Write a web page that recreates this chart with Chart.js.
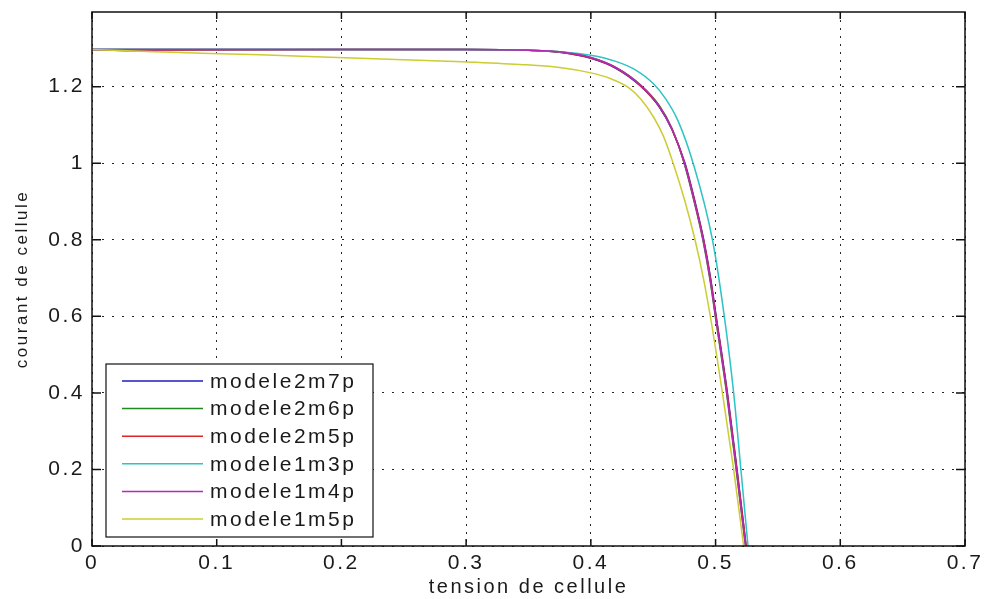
<!DOCTYPE html>
<html>
<head>
<meta charset="utf-8">
<script src="https://cdn.jsdelivr.net/npm/chart.js@4.4.0/dist/chart.umd.min.js"></script>
<style>
html, body { margin: 0; padding: 0; background: #fff; }
#wrap { width: 989px; height: 599px; }
</style>
</head>
<body>
<div id="wrap"><canvas id="c"></canvas></div>
<script>
const xTicks = [0, 0.1, 0.2, 0.3, 0.4, 0.5, 0.6, 0.7];
const yTicks = [0, 0.2, 0.4, 0.6, 0.8, 1, 1.2];

const seriesNames = ['modele2m7p', 'modele2m6p', 'modele2m5p', 'modele1m3p', 'modele1m4p', 'modele1m5p'];
const seriesColors = ['#1c1cc0', '#1f8a1f', '#e02525', '#2cc4c4', '#b52ab5', '#cccc33'];

// tension de cellule (V) / courant de cellule (A)
const v2m7p = [0, 0.1, 0.2, 0.3, 0.35, 0.375, 0.4, 0.42, 0.44, 0.455, 0.465, 0.4755, 0.4835, 0.4905, 0.496, 0.5005, 0.5095, 0.5172, 0.5245];
const i2m7p = [1.297, 1.297, 1.297, 1.297, 1.295, 1.29, 1.274, 1.248, 1.201, 1.146, 1.088, 1.0, 0.9, 0.8, 0.7, 0.6, 0.4, 0.2, 0];

const v2m6p = [0, 0.1, 0.2, 0.3, 0.35, 0.375, 0.4, 0.42, 0.44, 0.455, 0.465, 0.4748, 0.4828, 0.4898, 0.4953, 0.4998, 0.5088, 0.5165, 0.524];
const i2m6p = [1.297, 1.297, 1.297, 1.297, 1.295, 1.291, 1.276, 1.25, 1.204, 1.15, 1.091, 1.0, 0.9, 0.8, 0.7, 0.6, 0.4, 0.2, 0];

const v2m5p = [0, 0.03, 0.1, 0.2, 0.3, 0.35, 0.375, 0.4, 0.42, 0.44, 0.455, 0.465, 0.4752, 0.4832, 0.4903, 0.4958, 0.5003, 0.5093, 0.517, 0.5245];
const i2m5p = [1.297, 1.294, 1.296, 1.297, 1.297, 1.295, 1.29, 1.275, 1.249, 1.202, 1.148, 1.089, 1.0, 0.9, 0.8, 0.7, 0.6, 0.4, 0.2, 0];

const v1m3p = [0, 0.1, 0.2, 0.3, 0.35, 0.375, 0.4, 0.42, 0.435, 0.45, 0.46, 0.47, 0.482, 0.4975, 0.507, 0.5145, 0.5203, 0.526];
const i1m3p = [1.297, 1.297, 1.297, 1.297, 1.295, 1.291, 1.282, 1.266, 1.245, 1.208, 1.168, 1.11, 1.0, 0.8, 0.6, 0.4, 0.2, 0];

const v1m4p = [0, 0.1, 0.2, 0.3, 0.35, 0.375, 0.4, 0.42, 0.44, 0.455, 0.465, 0.475, 0.483, 0.49, 0.4955, 0.5, 0.509, 0.5167, 0.524];
const i1m4p = [1.297, 1.297, 1.297, 1.297, 1.295, 1.291, 1.276, 1.25, 1.203, 1.148, 1.09, 1.0, 0.9, 0.8, 0.7, 0.6, 0.4, 0.2, 0];

const v1m5p = [0, 0.05, 0.135, 0.215, 0.297, 0.343, 0.375, 0.4, 0.415, 0.43, 0.44, 0.45, 0.458, 0.466, 0.4755, 0.4835, 0.4902, 0.4958, 0.5055, 0.5145, 0.5225];
const i1m5p = [1.297, 1.291, 1.283, 1.274, 1.265, 1.258, 1.25, 1.236, 1.222, 1.198, 1.168, 1.122, 1.072, 1.0, 0.9, 0.8, 0.7, 0.6, 0.4, 0.2, 0];

const seriesV = [v2m7p, v2m6p, v2m5p, v1m3p, v1m4p, v1m5p];
const seriesI = [i2m7p, i2m6p, i2m5p, i1m3p, i1m4p, i1m5p];

const FONT = 'Liberation Sans, Arial, Helvetica, sans-serif';
const SPACING = '2.5px';

const toPoints = (vs, is) => vs.map((v, k) => ({ x: v, y: is[k] }));

// matlab style box, inner tick marks and legend inside the axes
const matlabFrame = {
    id: 'matlabFrame',
    beforeUpdate(chart) { chart.ctx.letterSpacing = SPACING; },
    beforeLayout(chart) { chart.ctx.letterSpacing = SPACING; },
    beforeDraw(chart) { chart.ctx.letterSpacing = SPACING; },
    afterDraw(chart) {
        const { ctx, chartArea: a, scales: { x, y } } = chart;
        ctx.save();
        ctx.strokeStyle = '#111';
        ctx.lineWidth = 1.5;
        ctx.strokeRect(a.left, a.top, a.right - a.left, a.bottom - a.top);
        ctx.beginPath();
        xTicks.forEach(v => {
            const px = x.getPixelForValue(v);
            ctx.moveTo(px, a.bottom); ctx.lineTo(px, a.bottom - 7);
            ctx.moveTo(px, a.top); ctx.lineTo(px, a.top + 7);
        });
        yTicks.forEach(v => {
            const py = y.getPixelForValue(v);
            ctx.moveTo(a.left, py); ctx.lineTo(a.left + 9, py);
            ctx.moveTo(a.right, py); ctx.lineTo(a.right - 9, py);
        });
        ctx.stroke();

        // legend box
        const bx = a.left + 14, bw = 267, bh = 173;
        const by = a.bottom - 9 - bh;
        const rowH = 27.6;
        ctx.fillStyle = '#fff';
        ctx.fillRect(bx, by, bw, bh);
        ctx.lineWidth = 1.2;
        ctx.strokeStyle = '#111';
        ctx.strokeRect(bx, by, bw, bh);
        ctx.font = '21px ' + FONT;
        ctx.letterSpacing = SPACING;
        ctx.textBaseline = 'middle';
        ctx.textAlign = 'left';
        chart.data.datasets.forEach((ds, k) => {
            const ry = by + 17 + k * rowH;
            ctx.strokeStyle = ds.borderColor;
            ctx.lineWidth = 1.5;
            ctx.beginPath();
            ctx.moveTo(bx + 16, ry); ctx.lineTo(bx + 97, ry);
            ctx.stroke();
            ctx.fillStyle = '#1a1a1a';
            ctx.fillText(ds.label, bx + 104, ry + 1);
        });
        ctx.restore();
    }
};

new Chart(document.getElementById('c'), {
    type: 'line',
    data: {
        datasets: seriesNames.map((name, k) => ({
            label: name,
            data: toPoints(seriesV[k], seriesI[k]),
            borderColor: seriesColors[k],
            backgroundColor: seriesColors[k],
            borderWidth: 1.5,
            pointRadius: 0,
            fill: false,
            cubicInterpolationMode: 'monotone',
            order: seriesNames.length - k
        }))
    },
    options: {
        responsive: true,
        maintainAspectRatio: false,
        animation: false,
        layout: { padding: { left: 0, right: 24, top: 12, bottom: 0 } },
        scales: {
            x: {
                type: 'linear',
                min: 0,
                max: 0.7,
                afterBuildTicks: s => { s.ticks = xTicks.map(v => ({ value: v })); },
                afterFit: s => { s.height = 53; s.paddingLeft = 0; s.paddingRight = 0; },
                grid: { color: 'rgba(0,0,0,0.85)', lineWidth: 1, drawTicks: false },
                border: { display: false, dash: [2, 6] },
                ticks: {
                    color: '#1a1a1a',
                    padding: 5,
                    maxRotation: 0,
                    autoSkip: false,
                    callback: v => String(v),
                    font: { family: FONT, size: 21 }
                },
                title: {
                    display: true,
                    text: 'tension de cellule',
                    color: '#1a1a1a',
                    padding: { top: 0, bottom: 0 },
                    font: { family: FONT, size: 20 }
                }
            },
            y: {
                min: 0,
                max: 1.395,
                afterBuildTicks: s => { s.ticks = yTicks.map(v => ({ value: v })); },
                afterFit: s => { s.width = 92; s.paddingTop = 0; s.paddingBottom = 0; },
                grid: { color: 'rgba(0,0,0,0.85)', lineWidth: 1, drawTicks: false },
                border: { display: false, dash: [2, 8] },
                ticks: {
                    color: '#1a1a1a',
                    padding: 7,
                    callback: v => String(v),
                    font: { family: FONT, size: 21 }
                },
                title: {
                    display: true,
                    text: 'courant de cellule',
                    color: '#1a1a1a',
                    padding: { top: 12, bottom: 0 },
                    font: { family: FONT, size: 17 }
                }
            }
        },
        plugins: {
            legend: { display: false },
            tooltip: { enabled: false }
        }
    },
    plugins: [matlabFrame]
});
</script>
</body>
</html>
